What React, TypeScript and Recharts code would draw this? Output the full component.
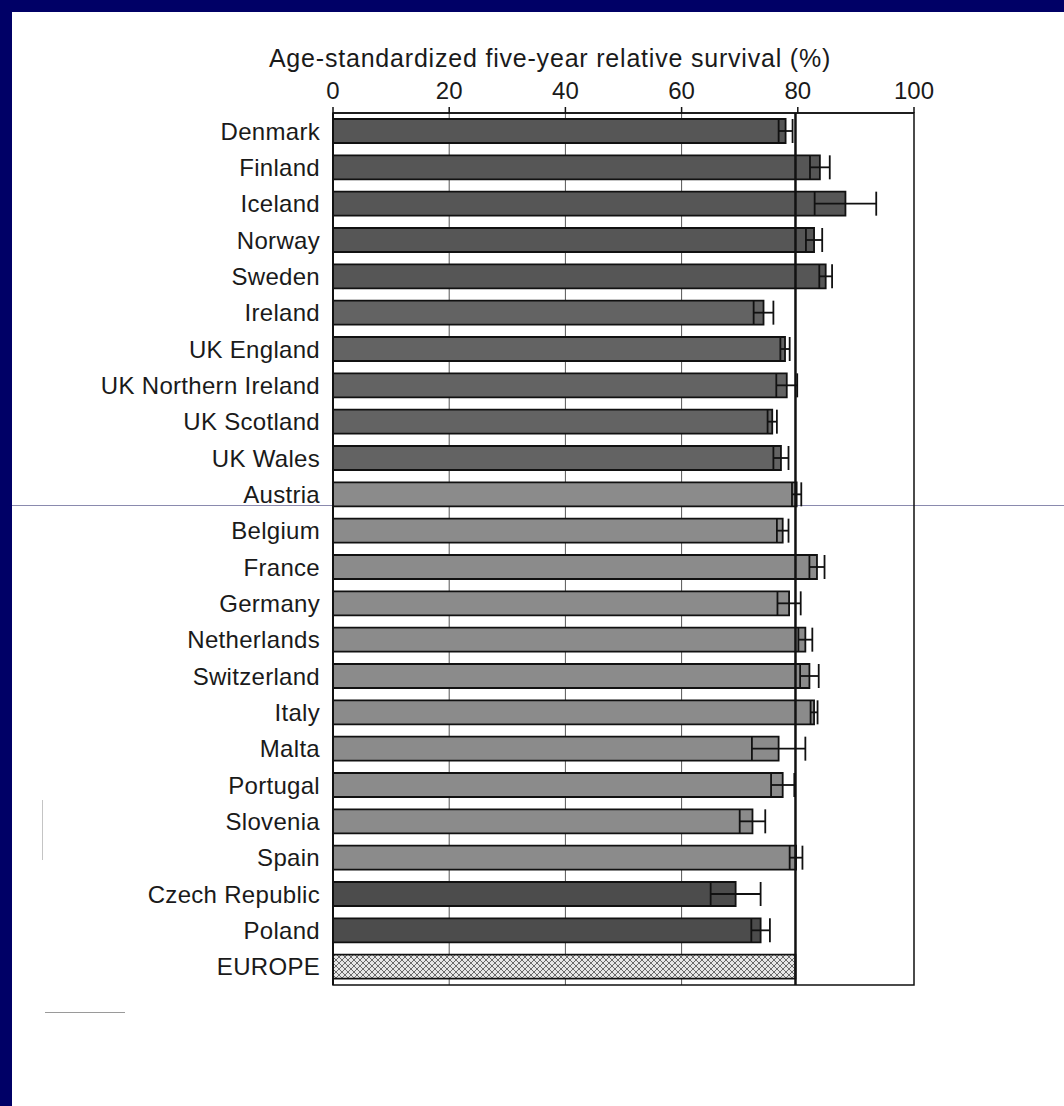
import React from 'react';
import {
  BarChart,
  Bar,
  XAxis,
  YAxis,
  ErrorBar,
  ReferenceLine,
  ReferenceArea,
  CartesianGrid,
  Cell,
} from 'recharts';

const countries = [
  'Denmark', 'Finland', 'Iceland', 'Norway', 'Sweden',
  'Ireland', 'UK England', 'UK Northern Ireland', 'UK Scotland', 'UK Wales',
  'Austria', 'Belgium', 'France', 'Germany', 'Netherlands', 'Switzerland', 'Italy',
  'Malta', 'Portugal', 'Slovenia', 'Spain',
  'Czech Republic', 'Poland', 'EUROPE',
];

const survival = [
  77.9, 83.8, 88.2, 82.8, 84.8,
  74.1, 77.8, 78.1, 75.6, 77.1,
  79.8, 77.4, 83.3, 78.5, 81.3, 82.0, 82.8,
  76.7, 77.4, 72.2, 79.7,
  69.3, 73.6, 79.6,
];

const ciHalfWidth = [
  1.2, 1.7, 5.3, 1.4, 1.1,
  1.7, 0.8, 1.8, 0.8, 1.3,
  0.8, 1.0, 1.3, 2.0, 1.2, 1.6, 0.6,
  4.6, 2.0, 2.2, 1.1,
  4.3, 1.6, null,
];

const regionGroup = [
  'nordic', 'nordic', 'nordic', 'nordic', 'nordic',
  'uk', 'uk', 'uk', 'uk', 'uk',
  'west', 'west', 'west', 'west', 'west', 'west', 'west',
  'west', 'west', 'west', 'west',
  'east', 'east', 'europe',
];

const xTicks = [0, 20, 40, 60, 80, 100];
const axisTitle = 'Age-standardized five-year relative survival (%)';

const groupFill: Record<string, string> = {
  nordic: '#565656',
  uk: '#636363',
  west: '#8b8b8b',
  east: '#4c4c4c',
  europe: 'url(#europeHatch)',
};

const data = countries.map((c, i) => ({
  country: c,
  value: survival[i],
  err: ciHalfWidth[i],
  group: regionGroup[i],
}));

const europeValue = survival[countries.indexOf('EUROPE')];

const FONT = '"Liberation Sans", Arial, Helvetica, sans-serif';

const YTick = (props: any) => {
  const { x, y, payload } = props;
  return (
    <text
      x={x}
      y={y}
      dy="0.36em"
      textAnchor="end"
      fontSize={24}
      letterSpacing={0.3}
      fill="#1a1a1a"
      fontFamily={FONT}
    >
      {payload.value}
    </text>
  );
};

export default function App() {
  return (
    <div
      style={{
        position: 'absolute',
        left: 0,
        top: 0,
        width: 1064,
        height: 1106,
        background: '#000066',
        overflow: 'hidden',
      }}
    >
      <div
        style={{
          position: 'absolute',
          left: 12,
          top: 12,
          width: 1052,
          height: 1094,
          background: '#ffffff',
        }}
      />
      {/* scan artefacts */}
      <div style={{ position: 'absolute', left: 12, top: 505, width: 1052, height: 1, background: '#8a8aae' }} />
      <div style={{ position: 'absolute', left: 45, top: 1012, width: 80, height: 1, background: '#9a9a9a' }} />
      <div style={{ position: 'absolute', left: 42, top: 800, width: 1, height: 60, background: '#c4c4c4' }} />
      <div
        style={{
          position: 'absolute',
          left: 0,
          top: 44,
          width: 1100,
          textAlign: 'center',
          fontFamily: FONT,
          fontSize: 25,
          letterSpacing: 0.8,
          color: '#1a1a1a',
          whiteSpace: 'nowrap',
        }}
      >
        {axisTitle}
      </div>
      <div style={{ position: 'absolute', left: 0, top: 0 }}>
        <BarChart
          width={1064}
          height={1106}
          data={data}
          layout="vertical"
          margin={{ top: 73, right: 150, bottom: 121, left: 0 }}
          barCategoryGap={6}
        >
          <defs>
            <pattern id="europeHatch" width="6" height="6" patternUnits="userSpaceOnUse">
              <rect width="6" height="6" fill="#e6e6e6" />
              <path d="M0,0 L6,6 M6,0 L0,6" stroke="#6a6a6a" strokeWidth="1" />
            </pattern>
          </defs>
          <CartesianGrid horizontal={false} vertical stroke="#555" strokeWidth={1} verticalValues={[20, 40, 60]} />
          <XAxis
            type="number"
            orientation="top"
            domain={[0, 100]}
            ticks={xTicks}
            height={40}
            tickSize={6}
            tickMargin={8}
            interval={0}
            axisLine={{ stroke: '#111', strokeWidth: 1.5 }}
            tickLine={{ stroke: '#111', strokeWidth: 1.5 }}
            tick={{ fontSize: 24, fill: '#1a1a1a', fontFamily: FONT }}
          />
          <YAxis
            type="category"
            dataKey="country"
            width={333}
            tickSize={6}
            tickMargin={7}
            interval={0}
            tickLine={false}
            axisLine={{ stroke: '#111', strokeWidth: 2 }}
            tick={<YTick />}
          />
          <ReferenceLine x={europeValue} stroke="#111" strokeWidth={2.5} ifOverflow="visible" />
          <Bar dataKey="value" isAnimationActive={false} stroke="#111" strokeWidth={1.8}>
            {data.map((d) => (
              <Cell key={d.country} fill={groupFill[d.group]} />
            ))}
            <ErrorBar dataKey="err" direction="x" width={12} stroke="#111" strokeWidth={1.8} />
          </Bar>
          <ReferenceArea
            x1={0}
            x2={100}
            fill="none"
            fillOpacity={0}
            stroke="#111"
            strokeWidth={1.5}
            ifOverflow="visible"
          />
        </BarChart>
      </div>
    </div>
  );
}
